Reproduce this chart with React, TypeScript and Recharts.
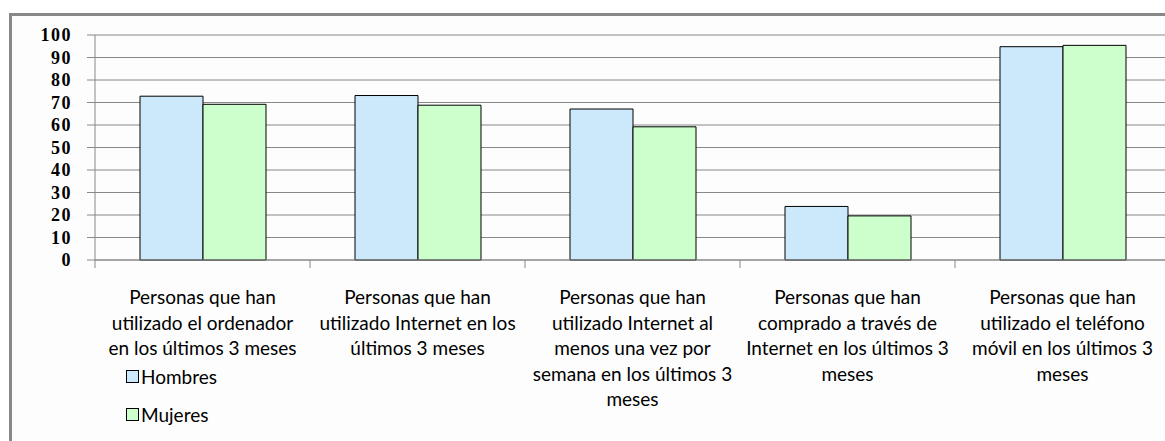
import React from 'react';
import { BarChart, Bar, XAxis, YAxis, CartesianGrid, Legend } from 'recharts';

const CATEGORY_LINES = [
  ['Personas que han', 'utilizado el ordenador', 'en los últimos 3 meses'],
  ['Personas que han', 'utilizado Internet en los', 'últimos 3 meses'],
  ['Personas que han', 'utilizado Internet al', 'menos una vez por', 'semana en los últimos 3', 'meses'],
  ['Personas que han', 'comprado a través de', 'Internet en los últimos 3', 'meses'],
  ['Personas que han', 'utilizado el teléfono', 'móvil en los últimos 3', 'meses'],
];
const CATEGORIES = CATEGORY_LINES.map((l) => l.join(' '));
const HOMBRES = [72.8, 73.1, 67.1, 23.8, 94.8];
const MUJERES = [69.2, 68.8, 59.2, 19.6, 95.4];
const Y_TICKS = [0, 10, 20, 30, 40, 50, 60, 70, 80, 90, 100];

const SERIES = [
  { key: 'Hombres', values: HOMBRES, color: '#CCE9FB' },
  { key: 'Mujeres', values: MUJERES, color: '#CCFFCC' },
];

const data = CATEGORIES.map((name, i) => ({
  name,
  Hombres: HOMBRES[i],
  Mujeres: MUJERES[i],
}));

const CHART_W = 1200;
const CHART_H = 441;
const MARGIN = { top: 35, right: 30, left: 0, bottom: 0 };
const Y_AXIS_W = 95;
const PLOT_W = CHART_W - MARGIN.left - MARGIN.right - Y_AXIS_W;
const HALF_BAND = PLOT_W / CATEGORIES.length / 2;
const LABEL_FONT = 'Lato, "Noto Sans", sans-serif';

function CategoryTick(props: any) {
  const { x, y, payload } = props;
  const lines = CATEGORY_LINES[payload.index] || [];
  const last = payload.index === CATEGORIES.length - 1;
  return (
    <g>
      <line x1={x - HALF_BAND} y1={y} x2={x - HALF_BAND} y2={y + 8} stroke="#888" />
      {last && <line x1={x + HALF_BAND} y1={y} x2={x + HALF_BAND} y2={y + 8} stroke="#888" />}
      <text x={x} y={y + 44} textAnchor="middle" fontFamily={LABEL_FONT} fontSize={19} fill="#000">
        {lines.map((line, i) => (
          <tspan key={i} x={x} dy={i === 0 ? 0 : 25.5}>
            {line}
          </tspan>
        ))}
      </text>
    </g>
  );
}

function LegendBox(props: any) {
  const items = props.payload || [];
  return (
    <div style={{ fontFamily: LABEL_FONT, fontSize: 19, color: '#000' }}>
      {items.map((it: any) => (
        <div key={it.value} style={{ display: 'flex', alignItems: 'center', height: 38 }}>
          <span
            style={{
              display: 'inline-block',
              width: 11,
              height: 11,
              background: it.color,
              border: '1px solid #000',
              marginRight: 2,
            }}
          />
          <span>{it.value}</span>
        </div>
      ))}
    </div>
  );
}

export default function App() {
  return (
    <div
      style={{
        position: 'fixed',
        left: 0,
        top: 0,
        width: 1165,
        height: 441,
        overflow: 'hidden',
        background: '#fff',
      }}
    >
      <div
        style={{
          position: 'absolute',
          left: 9,
          top: 13,
          width: 2000,
          height: 1000,
          border: '3px solid #888',
          background: '#fdfdfd',
        }}
      />
      <div style={{ position: 'absolute', left: 0, top: 0 }}>
        <BarChart
          width={CHART_W}
          height={CHART_H}
          data={data}
          margin={MARGIN}
          barCategoryGap={45}
          barGap={0}
        >
          <CartesianGrid horizontal vertical={false} stroke="#888" />
          <XAxis
            dataKey="name"
            interval={0}
            height={CHART_H - 260}
            axisLine={{ stroke: '#888' }}
            tickLine={false}
            tickSize={0}
            tickMargin={0}
            tick={<CategoryTick />}
          />
          <YAxis
            width={Y_AXIS_W}
            domain={[0, 100]}
            ticks={Y_TICKS}
            interval={0}
            axisLine={{ stroke: '#888' }}
            tickLine={{ stroke: '#888' }}
            tickSize={8}
            tickMargin={15}
            tick={{
              fontFamily: '"Liberation Serif", "DejaVu Serif", serif',
              fontSize: 18,
              fontWeight: 'bold',
              fill: '#000',
              letterSpacing: 1.5,
            }}
          />
          <Legend
            layout="vertical"
            align="center"
            verticalAlign="middle"
            wrapperStyle={{ left: 126, top: 357, width: 140 }}
            content={<LegendBox />}
          />
          {SERIES.map((s) => (
            <Bar
              key={s.key}
              dataKey={s.key}
              fill={s.color}
              stroke="#000"
              strokeWidth={1}
              isAnimationActive={false}
            />
          ))}
        </BarChart>
      </div>
    </div>
  );
}
